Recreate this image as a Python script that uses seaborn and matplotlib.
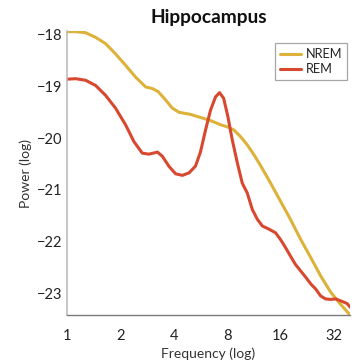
import matplotlib
matplotlib.use("Agg")
import matplotlib.pyplot as plt
import seaborn as sns
import pandas as pd

# NREM spectrum (frequency in Hz, log power)
nrem_freq = [1.0, 1.118, 1.274, 1.45, 1.65, 1.88, 2.14, 2.44, 2.78, 3.03, 3.27,
             3.6, 3.93, 4.29, 4.97, 5.66, 6.45, 7.34, 8.0, 8.73, 9.52, 10.39,
             11.33, 12.35, 14.07, 16.0, 18.2, 20.8, 23.7, 26.9, 30.7, 35.0, 39.5]
nrem_pow = [-17.94, -17.94, -17.96, -18.05, -18.17, -18.37, -18.59, -18.82,
            -19.01, -19.04, -19.10, -19.26, -19.42, -19.50, -19.54, -19.60,
            -19.66, -19.74, -19.78, -19.84, -19.97, -20.13, -20.32, -20.53,
            -20.87, -21.22, -21.57, -21.96, -22.31, -22.66, -22.98, -23.22,
            -23.42]

# REM spectrum
rem_freq = [1.0, 1.118, 1.274, 1.45, 1.65, 1.88, 2.14, 2.39, 2.66, 2.9, 3.24,
            3.45, 3.77, 4.1, 4.48, 4.89, 5.31, 5.66, 6.05, 6.45, 6.89, 7.26,
            7.65, 8.08, 8.55, 9.14, 9.74, 10.39, 11.1, 11.85, 12.65, 13.78,
            14.99, 16.0, 17.1, 18.2, 19.4, 20.8, 22.2, 23.7, 25.3, 26.9, 28.7,
            30.7, 32.7, 35.7, 38.0, 39.5]
rem_pow = [-18.86, -18.85, -18.88, -18.98, -19.17, -19.42, -19.74, -20.07,
           -20.29, -20.31, -20.27, -20.35, -20.55, -20.69, -20.72, -20.67,
           -20.54, -20.27, -19.84, -19.46, -19.20, -19.12, -19.23, -19.58,
           -20.03, -20.48, -20.87, -21.06, -21.38, -21.57, -21.70, -21.76,
           -21.83, -21.96, -22.12, -22.28, -22.44, -22.57, -22.69, -22.82,
           -22.92, -23.05, -23.11, -23.12, -23.11, -23.16, -23.20, -23.27]

xticks = [1, 2, 4, 8, 16, 32]
xticklabels = ["1", "2", "4", "8", "16", "32"]
yticks = [-18, -19, -20, -21, -22, -23]
yticklabels = ["\u221218", "\u221219", "\u221220", "\u221221", "\u221222", "\u221223"]

df = pd.concat([
    pd.DataFrame({"Frequency": nrem_freq, "Power": nrem_pow, "State": "NREM"}),
    pd.DataFrame({"Frequency": rem_freq, "Power": rem_pow, "State": "REM"}),
])

sns.set_style("white")
plt.rcParams["font.family"] = ["Lato", "DejaVu Sans"]

fig = plt.figure(figsize=(3.54, 3.62), dpi=100)
ax = fig.add_axes([0.189, 0.130, 0.800, 0.784])

palette = {"NREM": "#DDB23A", "REM": "#D8482F"}
sns.lineplot(data=df, x="Frequency", y="Power", hue="State", palette=palette,
             linewidth=2.2, ax=ax, sort=False, estimator=None)

ax.set_xscale("log", base=2)
ax.set_xlim(1, 39.5)
ax.set_ylim(-23.42, -17.93)
ax.set_xticks(xticks)
ax.set_xticklabels(xticklabels)
ax.minorticks_off()
ax.set_yticks(yticks)
ax.set_yticklabels(yticklabels)

for s in ["top", "right"]:
    ax.spines[s].set_visible(False)
ax.spines["left"].set_color("#b8b8b8")
ax.spines["bottom"].set_color("#7a7a7a")
ax.spines["left"].set_linewidth(1.1)
ax.spines["bottom"].set_linewidth(1.0)

ax.tick_params(axis="both", direction="in", length=3, width=0.8, colors="#808080",
               labelcolor="#222222", labelsize=10.5)
ax.tick_params(axis="x", pad=10)
ax.tick_params(axis="y", pad=3.5)

ax.set_xlabel("Frequency (log)", fontsize=10, color="#333333", labelpad=3.5)
ax.set_ylabel("Power (log)", fontsize=10, color="#333333", labelpad=3)
ax.set_title("Hippocampus", fontsize=13.8, fontweight="bold", color="#111111", pad=6)

leg = ax.legend(loc="upper right", bbox_to_anchor=(0.99, 0.958), fontsize=9.2,
                frameon=True, fancybox=False, handlelength=1.6, handletextpad=0.4,
                borderpad=0.4, labelspacing=0.25, borderaxespad=0.0, title=None)
leg.get_frame().set_edgecolor("#909090")
leg.get_frame().set_linewidth(0.9)
for line in leg.get_lines():
    line.set_linewidth(2.2)

fig.savefig("out.png", dpi=100)
